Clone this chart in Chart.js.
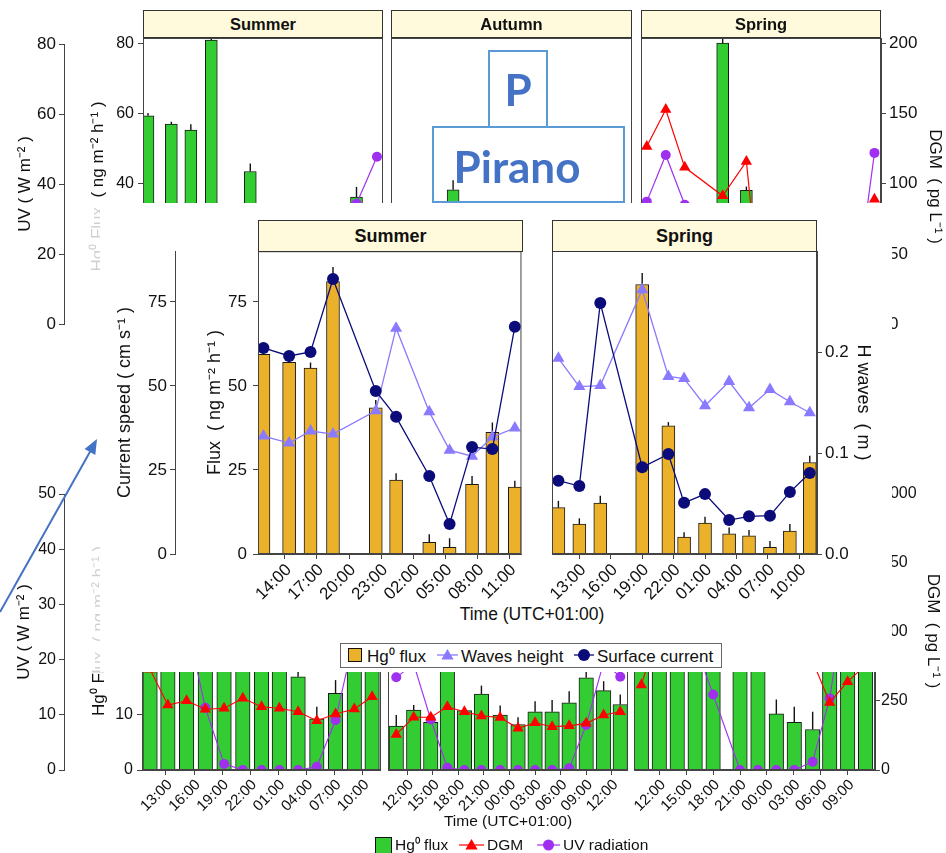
<!DOCTYPE html>
<html>
<head>
<meta charset="utf-8">
<script src="https://cdn.jsdelivr.net/npm/chart.js@4.4.1/dist/chart.umd.min.js"></script>
<style>
  html, body { margin: 0; padding: 0; background: #fff; }
  #stage { position: relative; width: 946px; height: 853px; overflow: hidden; background: #fff;
           font-family: 'Liberation Sans', Arial, Helvetica, sans-serif; color: #111; }
  .strip { position: absolute; box-sizing: border-box; background: #FFFADB; border: 1px solid #333;
           font-weight: bold; text-align: center; color: #111; }
  .abs { position: absolute; white-space: nowrap; }
  .cover { position: absolute; }
  .tag { position: absolute; box-sizing: border-box; border: 2px solid #5B9BD5; }
  .tagText { position: absolute; font-family: Lato, 'Open Sans', sans-serif; font-weight: 700; color: #4472C4; white-space: nowrap; }
</style>
</head>
<body>
<div id="stage"></div>
<script>
// ---------------- data ----------------
// Times are hours counted from 00:00 of the first sampling day.

// Gulf campaign, summer (flux, current speed, wave height, UV)
const summerHours    = [12.0, 14.4, 16.4, 18.5, 22.5, 24.4, 27.5, 29.4, 31.5, 33.4, 35.5];
const summerFlux     = [59.4, 57.0, 55.3, 81.0, 43.5, 22.0, 3.5, 2.0, 20.7, 36.2, 19.9];
const summerFluxErr  = [0.8, 0.7, 1.7, 4.4, 2.3, 2.0, 2.4, 2.7, 2.5, 2.9, 1.9];
const summerCurrent  = [61.3, 58.9, 60.1, 81.8, 48.5, 40.8, 23.2, 8.9, 31.8, 31.2, 67.6];
const summerWaves    = [0.117, 0.110, 0.122, 0.119, 0.142, 0.224, 0.141, 0.103, 0.097, 0.116, 0.125];
const summerUV       = [null, null, null, null, null, null, null, null, null, 34.3, 47.7];

// autumn
const autumnHours    = [16.7];
const autumnFlux     = [38.3];
const autumnFluxErr  = [2.7];

// spring
const springHours    = [11.0, 13.0, 15.0, 19.0, 21.5, 23.0, 25.0, 27.3, 29.2, 31.2, 33.1, 35.0];
const springFlux     = [13.8, 8.9, 15.1, 80.1, 38.1, 5.0, 9.2, 6.0, 5.4, 2.0, 6.8, 27.2];
const springFluxErr  = [2.0, 1.7, 2.2, 3.4, 1.1, 1.5, 1.9, 1.9, 1.7, 1.9, 2.1, 2.0];
const springCurrent  = [21.8, 20.2, 74.6, 25.8, 29.7, 15.2, 17.8, 10.1, 11.2, 11.4, 18.4, 24.1];
const springWaves    = [0.194, 0.166, 0.167, 0.262, 0.176, 0.174, 0.147, 0.171, 0.145, 0.163, 0.151, 0.140];
const springDGM      = [126.6, 152.9, 111.7, 91.4, 115.9, 15, null, null, null, null, null, 89];
const springUV       = [34.9, 48.2, 34.0, null, null, null, null, null, null, null, 10.3, 48.8];

// second station, three campaigns (flux, DGM, UV)
const b1Hours   = [11.3, 13.2, 15.2, 17.2, 19.2, 21.2, 23.2, 25.1, 27.1, 29.1, 31.1, 33.1, 35.0];
const b1Flux    = [28, 30, 26, 24, 27, 25, 23, 21, 16.8, 9.2, 13.8, 24, 29];
const b1FluxErr = [null, null, null, null, null, null, null, null, 2.5, 2.2, 2.4, null, null];
const b1DGM     = [365, 235.5, 251, 220, 223.5, 259.8, 229.4, 223.5, 211.3, 178.7, 202.9, 221, 265.6];
const b1UV      = [null, null, 26.7, 11.2, 1.1, 0, 0, 0, 0, 0.6, 9.0, 24, null];

const b2Hours   = [10.7, 12.75, 14.75, 16.7, 18.7, 20.7, 22.9, 25.0, 27.0, 29.0, 31.0, 33.0, 35.05, 37.0];
const b2Flux    = [7.9, 10.8, 8.6, 22, 10.7, 13.7, 9.9, 8.2, 10.5, 10.5, 12.1, 16.6, 14.3, 11.8];
const b2FluxErr = [2.0, 0.9, 0.3, null, 0.3, 1.5, 1.7, 1.3, 1.9, 2.1, 2.1, 1.2, 1.7, 1.8];
const b2DGM     = [129, 191, 191, 229, 211, 196, 190, 151, 171, 157, 160, 169, 199, 211];
const b2UV      = [16.7, 19.1, 9.1, 0.4, 0, 0, 0, 0, 0, 0, 0.3, 8.1, 19.4, 16.8];

const b3Hours   = [10.0, 12.0, 14.0, 16.0, 18.0, 21.0, 23.0, 25.05, 27.05, 29.1, 31.0, 33.0, 35.0];
const b3Flux    = [26, 30, 28, 24, 22, 25, 23, 10.1, 8.6, 7.3, 20, 27, 31];
const b3FluxErr = [null, null, null, null, null, null, null, 2.6, 2.8, 3.2, null, null, null];
const b3DGM     = [308, 520, null, null, null, null, null, null, null, 395, 245, 320, 380];
const b3UV      = [null, null, null, 22.6, 13.6, 0, 0, 0, 0, 1.5, 12.9, 33.8, null];

// tick positions (hours) and axis ticks
const insetSummerTicks = [14, 17, 20, 23, 26, 29, 32, 35];
const insetSpringTicks = [13, 16, 19, 22, 25, 28, 31, 34];
const b1Ticks = [13, 16, 19, 22, 25, 28, 31, 34];
const b2Ticks = [12, 15, 18, 21, 24, 27, 30, 33, 36];
const b3Ticks = [12, 15, 18, 21, 24, 27, 30, 33];
const fluxTicksInset = [0, 25, 50, 75];
const waveTicks = [0, 0.1, 0.2];
const fluxTicksTop = [0, 20, 40, 60, 80];
const uvTicksTop = [0, 20, 40, 60, 80];
const dgmTicksTop = [0, 50, 100, 150, 200];
const fluxTicksBottom = [0, 10, 20, 30, 40, 50];
const uvTicksBottom = [0, 10, 20, 30, 40, 50];
const dgmTicksBottom = [0, 250, 500, 750, 1000];

// ---------------- styling ----------------
const GREEN = '#33CC33', ORANGE = '#EBB12B', NAVY = '#0B0B7A', WAVE = '#8A7AFF', RED = '#FF0000', PURPLE = '#A030F0';
const AXIS = '#444444', INK = '#111111';

Chart.defaults.font.family = "'Liberation Sans', Arial, Helvetica, sans-serif";
Chart.defaults.color = INK;
Chart.defaults.animation = false;
Chart.defaults.events = [];
Chart.defaults.plugins.legend.display = false;
Chart.defaults.plugins.tooltip.enabled = false;

const stage = document.getElementById('stage');

// border round each plotting region
Chart.register({
  id: 'panelFrame',
  afterDraw(chart, args, o) {
    if (!o || !o.show) return;
    const { ctx, chartArea: a } = chart;
    ctx.save();
    ctx.strokeStyle = AXIS; ctx.lineWidth = 1;
    ctx.strokeRect(a.left + 0.5, a.top + 0.5, a.right - a.left - 1, a.bottom - a.top - 1);
    ctx.restore();
  }
});

// upper error bars on the flux columns
Chart.register({
  id: 'errorBars',
  afterDatasetDraw(chart, args) {
    const ds = chart.data.datasets[args.index];
    if (!ds.errorPlus) return;
    const { ctx, chartArea: a } = chart;
    const ys = chart.scales[args.meta.yAxisID];
    ctx.save();
    ctx.beginPath(); ctx.rect(a.left, a.top, a.right - a.left, a.bottom - a.top); ctx.clip();
    ctx.strokeStyle = INK; ctx.lineWidth = 1.4;
    args.meta.data.forEach((bar, i) => {
      const v = ds.data[i].y, e = ds.errorPlus[i];
      if (v == null || e == null) return;
      ctx.beginPath();
      ctx.moveTo(bar.x, ys.getPixelForValue(v));
      ctx.lineTo(bar.x, ys.getPixelForValue(v + e));
      ctx.stroke();
    });
    ctx.restore();
  }
});

const pts = (xs, ys) => xs.map((x, i) => ({ x, y: ys[i] }));
const clock = h => String(((Math.round(h) % 24) + 24) % 24).padStart(2, '0') + ':00';

function yAxis(o) {
  const show = o.show !== false;
  const ax = {
    type: 'linear', position: o.pos || 'left', display: show, weight: o.weight || 0,
    min: o.min, max: o.max,
    afterBuildTicks: s => { s.ticks = (o.ticks || []).map(v => ({ value: v })); },
    ticks: { font: { size: o.tick || 16 }, color: INK, padding: o.tickPad ?? 3,
             callback: o.fmt || (v => String(v)) },
    grid: { drawOnChartArea: false, drawTicks: true, tickLength: 5, color: AXIS, lineWidth: 1 },
    border: { display: true, color: AXIS, width: 1 },
    title: o.title ? { display: true, text: o.title, color: INK, font: { size: o.titleSize || 17 },
                       padding: { top: o.titlePad, bottom: 0 } } : { display: false }
  };
  if (show && o.width) ax.afterFit = s => { s.width = o.width; };
  return ax;
}

function xAxis(o) {
  const show = o.show !== false;
  const ax = {
    type: 'linear', position: 'bottom', display: show, min: o.min, max: o.max, offset: false,
    afterBuildTicks: s => { s.ticks = (o.ticks || []).map(v => ({ value: v })); },
    ticks: { autoSkip: false, minRotation: 45, maxRotation: 45, font: { size: o.tick || 16 },
             color: INK, padding: 1, labelOffset: 4, callback: v => clock(v) },
    grid: { offset: false, drawOnChartArea: false, drawTicks: true, tickLength: 5, color: AXIS },
    border: { display: true, color: AXIS }
  };
  if (show && o.height) ax.afterFit = s => { s.height = o.height; };
  return ax;
}

function barSet(xs, ys, err, color, thick) {
  return { type: 'bar', data: pts(xs, ys), errorPlus: err, backgroundColor: color,
           borderColor: '#1a1a1a', borderWidth: 1, barThickness: thick,
           xAxisID: 'x', yAxisID: 'flux', order: 3 };
}
function lineSet(xs, ys, axis, color, style, radius, width, order) {
  return { type: 'line', data: pts(xs, ys), xAxisID: 'x', yAxisID: axis,
           borderColor: color, backgroundColor: color, pointBackgroundColor: color,
           pointBorderColor: color, pointBorderWidth: 0, pointStyle: style, pointRadius: radius,
           borderWidth: width, order, spanGaps: false, tension: 0 };
}

// place a chart so that its plotting region covers area = [x0, y0, x1, y1]
function panel(spec) {
  const [x0, y0, x1, y1] = spec.area;
  const p = Object.assign({ l: 0, r: 0, t: 16, b: 16 }, spec.pad || {});
  const lw = spec.leftW || 0, rw = spec.rightW || 0, bh = spec.bottomH || 0;
  if (bh) p.b = 0;
  const cx = x0 - p.l - lw, cy = y0 - p.t;
  const cw = x1 - x0 + p.l + p.r + lw + rw, ch = y1 - y0 + p.t + p.b + bh;
  const c = document.createElement('canvas');
  c.width = cw; c.height = ch;
  Object.assign(c.style, { position: 'absolute', left: cx + 'px', top: cy + 'px',
                           width: cw + 'px', height: ch + 'px', zIndex: spec.z || 1 });
  stage.appendChild(c);
  return new Chart(c, {
    type: 'bar',
    data: { datasets: spec.datasets || [] },
    options: {
      responsive: false, animation: false, devicePixelRatio: 1,
      layout: { autoPadding: false, padding: { left: p.l, right: p.r, top: p.t, bottom: p.b } },
      scales: spec.scales,
      plugins: { legend: { display: false }, tooltip: { enabled: false },
                 panelFrame: { show: spec.frame !== false } }
    }
  });
}

function box(cls, x0, y0, x1, y1, z, css) {
  const d = document.createElement('div');
  d.className = cls;
  Object.assign(d.style, { left: x0 + 'px', top: y0 + 'px', width: (x1 - x0) + 'px',
                           height: (y1 - y0) + 'px', zIndex: z }, css || {});
  stage.appendChild(d);
  return d;
}
function strip(x0, y0, x1, y1, label, size, z) {
  const d = box('strip', x0, y0, x1, y1, z, { fontSize: size + 'px', lineHeight: (y1 - y0 - 2) + 'px' });
  d.textContent = label;
}
function text(x, y, s, size, z, center) {
  const d = document.createElement('div');
  d.className = 'abs';
  d.textContent = s;
  Object.assign(d.style, { left: x + 'px', top: y + 'px', fontSize: size + 'px', lineHeight: '1',
                           transform: center ? 'translate(-50%, -50%)' : 'translateY(-50%)', zIndex: z });
  stage.appendChild(d);
}

// ---------------- upper figure (three seasons) ----------------
const TOP_FLUX = [-3.14, 81.57], TOP_DGM = [-7.84, 203.9];

panel({ area: [64, 44, 65, 324], leftW: 64, frame: false, scales: {
  x: xAxis({ show: false, min: 0, max: 1 }),
  uv: yAxis({ min: 0, max: 80, ticks: uvTicksTop, width: 64, title: 'UV ( W m⁻² )', titlePad: 15, tick: 17 })
}});

panel({ area: [143, 38, 383, 335], leftW: 60, datasets: [
  barSet(summerHours, summerFlux, summerFluxErr, GREEN, 12),
  lineSet(summerHours, summerUV, 'uv', PURPLE, 'circle', 5, 1.2, 2)
], scales: {
  x: xAxis({ show: false, min: 11.49, max: 36.12 }),
  flux: yAxis({ min: TOP_FLUX[0], max: TOP_FLUX[1], ticks: fluxTicksTop, width: 60,
                title: 'Hg⁰ Flux  ( ng m⁻² h⁻¹ )', titlePad: 5, tick: 16, tickPad: 4 }),
  uv: yAxis({ show: false, min: TOP_FLUX[0], max: TOP_FLUX[1] })
}});

panel({ area: [391, 38, 632, 335], datasets: [
  barSet(autumnHours, autumnFlux, autumnFluxErr, GREEN, 12)
], scales: {
  x: xAxis({ show: false, min: 10, max: 36 }),
  flux: yAxis({ show: false, min: TOP_FLUX[0], max: TOP_FLUX[1] })
}});

panel({ area: [641, 38, 881, 335], rightW: 65, datasets: [
  barSet(springHours, springFlux, springFluxErr, GREEN, 12),
  lineSet(springHours, springUV, 'uv', PURPLE, 'circle', 5, 1.2, 2),
  lineSet(springHours, springDGM, 'dgm', RED, 'triangle', 6.5, 1.2, 1)
], scales: {
  x: xAxis({ show: false, min: 10.39, max: 35.69 }),
  flux: yAxis({ show: false, min: TOP_FLUX[0], max: TOP_FLUX[1] }),
  uv: yAxis({ show: false, min: TOP_FLUX[0], max: TOP_FLUX[1] }),
  dgm: yAxis({ pos: 'right', min: TOP_DGM[0], max: TOP_DGM[1], ticks: dgmTicksTop, width: 65,
               title: 'DGM  ( pg L⁻¹ )', titlePad: 1, tick: 17 })
}});

strip(143, 10, 383, 38, 'Summer', 16.5, 1);
strip(391, 10, 632, 38, 'Autumn', 16.5, 1);
strip(641, 10, 881, 38, 'Spring', 16.5, 1);

// ---------------- lower figure (second station) ----------------
const BOT_FLUX = [0, 50.09], BOT_DGM = [0, 1007.2];

panel({ area: [64, 494, 65, 770], leftW: 64, frame: false, scales: {
  x: xAxis({ show: false, min: 0, max: 1 }),
  uv: yAxis({ min: 0, max: 50, ticks: uvTicksBottom, width: 64, title: 'UV ( W m⁻² )', titlePad: 14, tick: 16 })
}});

panel({ area: [142, 492, 381, 770], leftW: 59, bottomH: 45, datasets: [
  barSet(b1Hours, b1Flux, b1FluxErr, GREEN, 14.5),
  lineSet(b1Hours, b1UV, 'uv', PURPLE, 'circle', 5, 1.1, 2),
  lineSet(b1Hours, b1DGM, 'dgm', RED, 'triangle', 6.5, 1.1, 1)
], scales: {
  x: xAxis({ min: 10.44, max: 35.95, ticks: b1Ticks, height: 45, tick: 15 }),
  flux: yAxis({ min: BOT_FLUX[0], max: BOT_FLUX[1], ticks: fluxTicksBottom, width: 59,
                title: 'Hg⁰ Flux  ( ng m⁻² h⁻¹ )', titlePad: 6, tick: 16, tickPad: 4 }),
  uv: yAxis({ show: false, min: BOT_FLUX[0], max: BOT_FLUX[1] }),
  dgm: yAxis({ show: false, min: BOT_DGM[0], max: BOT_DGM[1] })
}});

panel({ area: [388, 492, 628, 770], pad: { l: 10 }, bottomH: 45, datasets: [
  barSet(b2Hours, b2Flux, b2FluxErr, GREEN, 14.5),
  lineSet(b2Hours, b2UV, 'uv', PURPLE, 'circle', 5, 1.1, 2),
  lineSet(b2Hours, b2DGM, 'dgm', RED, 'triangle', 6.5, 1.1, 1)
], scales: {
  x: xAxis({ min: 9.73, max: 37.91, ticks: b2Ticks, height: 45, tick: 15 }),
  flux: yAxis({ show: false, min: BOT_FLUX[0], max: BOT_FLUX[1] }),
  uv: yAxis({ show: false, min: BOT_FLUX[0], max: BOT_FLUX[1] }),
  dgm: yAxis({ show: false, min: BOT_DGM[0], max: BOT_DGM[1] })
}});

panel({ area: [634, 492, 875, 770], pad: { l: 10 }, rightW: 71, bottomH: 45, datasets: [
  barSet(b3Hours, b3Flux, b3FluxErr, GREEN, 14.5),
  lineSet(b3Hours, b3UV, 'uv', PURPLE, 'circle', 5, 1.1, 2),
  lineSet(b3Hours, b3DGM, 'dgm', RED, 'triangle', 6.5, 1.1, 1)
], scales: {
  x: xAxis({ min: 9.18, max: 36.05, ticks: b3Ticks, height: 45, tick: 15 }),
  flux: yAxis({ show: false, min: BOT_FLUX[0], max: BOT_FLUX[1] }),
  uv: yAxis({ show: false, min: BOT_FLUX[0], max: BOT_FLUX[1] }),
  dgm: yAxis({ pos: 'right', min: BOT_DGM[0], max: BOT_DGM[1], ticks: dgmTicksBottom, width: 71,
               title: 'DGM  ( pg L⁻¹ )', titlePad: 3, tick: 16, tickPad: 1 })
}});

text(508, 821, 'Time (UTC+01:00)', 15.5, 1, true);

// legend of the lower figure
text(395, 845, 'Hg⁰ flux', 15.5, 1, false);
text(487, 845, 'DGM', 15.5, 1, false);
text(563, 845, 'UV radiation', 15.5, 1, false);

// ---------------- inset (current and waves) ----------------
box('cover', 80, 203, 100, 672, 2, { background: 'rgba(255,255,255,0.8)' });
box('cover', 100, 203, 892, 672, 2, { background: '#fff' });

const IN_FLUX = [0, 90.07], IN_WAVE = [0, 0.3004];

panel({ area: [258, 251, 523, 554], leftW: 158, pad: { r: 2 }, bottomH: 50, z: 3, datasets: [
  barSet(summerHours, summerFlux, summerFluxErr, ORANGE, 13),
  lineSet(summerHours, summerWaves, 'hw', WAVE, 'triangle', 7, 1.3, 2),
  lineSet(summerHours, summerCurrent, 'cs', NAVY, 'circle', 6, 1.3, 1)
], scales: {
  x: xAxis({ min: 11.49, max: 36.12, ticks: insetSummerTicks, height: 50, tick: 17 }),
  flux: yAxis({ min: IN_FLUX[0], max: IN_FLUX[1], ticks: fluxTicksInset, width: 83, weight: 0,
                title: 'Flux  ( ng m⁻² h⁻¹ )', titlePad: 29, titleSize: 18, tick: 17, tickPad: 6 }),
  cs: yAxis({ min: IN_FLUX[0], max: IN_FLUX[1], ticks: fluxTicksInset, width: 75, weight: 1,
              title: 'Current speed ( cm s⁻¹ )', titlePad: 14, titleSize: 18, tick: 17, tickPad: 3 }),
  hw: yAxis({ show: false, min: IN_WAVE[0], max: IN_WAVE[1] })
}});

panel({ area: [552, 251, 817, 554], rightW: 73, pad: { l: 12 }, bottomH: 50, z: 3, datasets: [
  barSet(springHours, springFlux, springFluxErr, ORANGE, 13),
  lineSet(springHours, springWaves, 'hw', WAVE, 'triangle', 7, 1.3, 2),
  lineSet(springHours, springCurrent, 'cs', NAVY, 'circle', 6, 1.3, 1)
], scales: {
  x: xAxis({ min: 10.39, max: 35.69, ticks: insetSpringTicks, height: 50, tick: 17 }),
  flux: yAxis({ show: false, min: IN_FLUX[0], max: IN_FLUX[1] }),
  cs: yAxis({ show: false, min: IN_FLUX[0], max: IN_FLUX[1] }),
  hw: yAxis({ pos: 'right', min: IN_WAVE[0], max: IN_WAVE[1], ticks: waveTicks, width: 73,
              fmt: v => v.toFixed(1), title: 'H waves  ( m )', titlePad: 16, titleSize: 18, tick: 17, tickPad: 3 })
}});

strip(258, 220, 523, 252, 'Summer', 18, 3);
strip(552, 220, 817, 252, 'Spring', 18, 3);
text(532, 615, 'Time (UTC+01:00)', 17.5, 3, true);

// inset legend
box('cover', 340, 643, 722, 668, 3, { background: '#fff', border: '1px solid #666', boxSizing: 'border-box' });
text(367, 655.5, 'Hg⁰ flux', 17, 4, false);
text(461, 655.5, 'Waves height', 17, 4, false);
text(597, 655.5, 'Surface current', 17, 4, false);

// legend keys, pointer arrow
const svgNS = 'http://www.w3.org/2000/svg';
const svg = document.createElementNS(svgNS, 'svg');
svg.setAttribute('width', 946); svg.setAttribute('height', 853);
Object.assign(svg.style, { position: 'absolute', left: 0, top: 0, zIndex: 5, pointerEvents: 'none' });
const tri = (cx, cy, r) => {
  const a = [0, 2 * Math.PI / 3, 4 * Math.PI / 3];
  return a.map(t => `${(cx + Math.sin(t) * r).toFixed(1)},${(cy - Math.cos(t) * r).toFixed(1)}`).join(' ');
};
svg.innerHTML = `
  <rect x="348.5" y="648.5" width="13" height="13" fill="${ORANGE}" stroke="#111" stroke-width="1"/>
  <line x1="437" y1="655" x2="458" y2="655" stroke="${WAVE}" stroke-width="1.3"/>
  <polygon points="${tri(447.5, 656, 7)}" fill="${WAVE}"/>
  <line x1="574" y1="655" x2="594" y2="655" stroke="${NAVY}" stroke-width="1.3"/>
  <circle cx="584" cy="655" r="6" fill="${NAVY}"/>

  <rect x="375.5" y="837.5" width="16" height="16" fill="${GREEN}" stroke="#111" stroke-width="1"/>
  <line x1="459" y1="845" x2="484" y2="845" stroke="${RED}" stroke-width="1.2"/>
  <polygon points="${tri(471.5, 846, 7)}" fill="${RED}"/>
  <line x1="537" y1="845" x2="560" y2="845" stroke="${PURPLE}" stroke-width="1.2"/>
  <circle cx="548.5" cy="845" r="5.5" fill="${PURPLE}"/>

  <line x1="0" y1="612" x2="91" y2="450" stroke="#4472C4" stroke-width="2"/>
  <polygon points="97,439 95.3,455 84.6,449" fill="#4472C4"/>
`;
stage.appendChild(svg);

box('tag', 488, 50, 548, 128, 6);
box('tag', 432, 126, 625, 203, 6);
const p1 = document.createElement('div');
p1.className = 'tagText'; p1.textContent = 'P';
Object.assign(p1.style, { left: '518px', top: '89px', fontSize: '44px', lineHeight: '1', transform: 'translate(-50%, -50%)', zIndex: 7 });
stage.appendChild(p1);
const p2 = document.createElement('div');
p2.className = 'tagText'; p2.textContent = 'Pirano';
Object.assign(p2.style, { left: '517px', top: '166px', fontSize: '44px', lineHeight: '1', transform: 'translate(-50%, -50%)', zIndex: 7 });
stage.appendChild(p2);
</script>
</body>
</html>
